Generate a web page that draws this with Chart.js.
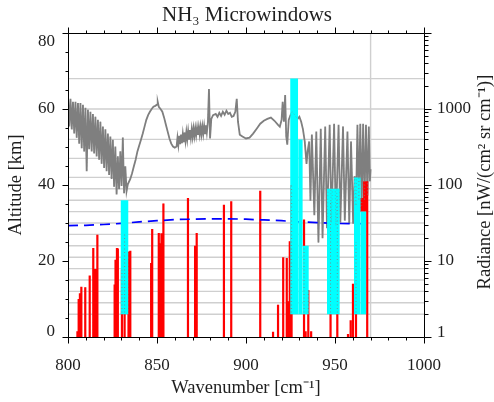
<!DOCTYPE html>
<html>
<head>
<meta charset="utf-8">
<script src="https://cdn.jsdelivr.net/npm/chart.js@4.4.1/dist/chart.umd.min.js"></script>
<style>
html, body { margin: 0; padding: 0; background: #ffffff; }
canvas { display: block; }
</style>
</head>
<body>
<canvas id="chart" width="494" height="402"></canvas>
<script>
// ---------------- data ----------------
const chartTitle = 'NH\u2083 Microwindows';
const xAxisTitle = 'Wavenumber [cm\u207B\u00B9]';
const yAxisTitle = 'Altitude [km]';
const y2AxisTitle = 'Radiance [nW/(cm\u00B2 sr cm\u207B\u00B9)]';

const wavenumberTicks = [800, 850, 900, 950, 1000];
const altitudeTicks = [0, 20, 40, 60, 80];
const radianceTicks = [1, 10, 100, 1000];

// simulated radiance spectrum (gray), right axis
const specWavenumber = [
  800.0, 800.7, 801.4, 802.1, 802.8, 803.5, 804.2, 804.9, 805.6, 806.3, 807.0, 807.7, 808.4, 809.1, 809.8,
  810.5, 811.2, 811.9, 812.6, 813.3, 814.0, 814.7, 815.4, 816.1, 816.8, 817.5, 818.2, 818.9, 819.6, 820.3,
  821.0, 821.7, 822.4, 823.1, 823.8, 824.5, 825.2, 825.9, 826.6, 827.3, 828.0, 828.7, 829.4, 830.1, 830.8,
  831.5, 832.2, 832.9, 833.6, 835, 836, 837, 838, 839, 840, 841, 842, 843, 844, 845, 846, 847, 848, 849,
  850, 850.4, 851, 852, 853, 854, 855, 856, 857, 858, 859, 860, 861,
  861.5, 862, 862.5, 863, 863.5, 864, 864.5, 865, 865.5, 866, 866.5, 867, 867.5, 868, 868.5, 869, 869.5,
  870, 870.5, 871, 871.5, 872, 872.5, 873, 873.5, 874, 874.5, 875, 875.5, 876, 876.5, 877, 877.5, 878,
  878.6, 879.2, 879.8, 880.5, 881.5, 883, 884, 885, 886,
  887, 888, 889, 890, 891, 892, 893, 894, 894.8, 895.5, 896.5, 898, 900, 902, 904, 906, 908, 910, 912, 914,
  916, 918, 919, 920, 920.6, 921.3, 922, 922.6, 923.2, 924, 925, 926, 927, 928, 929, 930, 931, 932, 933,
  934, 934.6, 935.5, 936.2, 937.0, 938.4, 939.5, 940.7, 942.0, 943.0, 944.5, 945.5, 947.0, 948.0, 949.5,
  950.5, 952.0, 953.0, 954.5, 955.5, 957.0, 958.0, 959.0, 960.2, 961.0, 961.8, 962.6, 963.4, 964.2, 965.0,
  965.8, 966.6, 967.4, 968.2, 969.0, 969.6, 970.0
];
const specRadiance = [
  1440, 590, 1360, 540, 1240, 475, 1240, 420, 1200, 350, 1200, 305, 1140, 277, 1040,
  152, 980, 295, 920, 277, 860, 260, 790, 238, 720, 215, 680, 190, 590, 167,
  540, 152, 475, 135, 434, 120, 395, 95, 321, 75, 238, 88, 277, 97, 420,
  78, 176, 83, 102, 120, 143, 176, 215, 277, 331, 395, 475, 586, 720, 830, 920, 1000, 1070, 1100,
  1140, 1240, 1070, 1000, 920, 770, 620, 504, 410, 350, 321, 310, 321,
  420, 335, 445, 345, 460, 355, 470, 365, 490, 380, 500, 395, 515, 405, 530, 420, 545,
  430, 555, 440, 560, 450, 570, 455, 575, 460, 585, 465, 590, 470, 600, 480, 610, 490,
  680, 1830, 410, 740, 830, 860, 790, 890, 810,
  920, 840, 950, 860, 890, 790, 810, 920, 1360, 680, 460, 434, 410, 420, 475, 550, 640, 700, 740, 770,
  700, 620, 586, 720, 1240, 680, 1530, 434, 340, 720, 830, 920, 860, 790, 740, 790, 680, 540, 374,
  190, 277, 374, 62, 460, 40, 504, 17.5, 550, 20, 586, 27, 620, 32, 641,
  29, 620, 32, 586, 34, 504, 31, 374, 31, 130, 53, 620, 62, 641, 53,
  641, 62, 620, 72, 586, 112, 162
];

// microwindow lines (red), left axis: wavenumber, base and top altitude
const mwWavenumber = [
  805.3, 806.0, 806.7, 807.5, 809.7, 812.2, 814.2, 815.3, 816.5,
  826.2, 826.7, 827.5, 828.0, 830.3, 831.8, 834.0, 835.0,
  846.7, 847.3, 851.0, 851.8, 852.5, 853.6, 867.4, 871.4, 872.3, 887.6, 891.7, 908.0,
  915.2, 918.0, 920.9, 922.9, 923.6, 924.6, 925.6,
  932.6, 933.5, 935.0, 936.6,
  947.5, 951.3, 957.3, 958.8, 960.1, 961.8,
  964.6, 965.2, 965.8, 966.4, 967.0, 967.6, 968.1
];
const mwBaseAltitude = [
  0, 0, 0, 0, 0, 0, 0, 0, 0,
  0, 0, 0, 0, 0, 0, 0, 0,
  0, 0, 0, 0, 0, 0, 0, 0, 0, 0, 0, 0,
  0, 0, 0, 0, 0, 0, 0,
  0, 0, 0, 0,
  0, 0, 0, 0, 0, 0,
  33, 33, 33, 33, 33, 33, 0
];
const mwTopAltitude = [
  1.5, 10.0, 11.5, 13.2, 13.1, 16.2, 23.4, 17.9, 26.9,
  13.8, 20.3, 23.4, 23.3, 17.7, 27.4, 22.5, 22.7,
  19.5, 28.4, 27.4, 24.7, 27.3, 35.1, 36.6, 24.0, 27.4, 34.8, 35.7, 38.5,
  1.4, 8.5, 21.0, 20.8, 9.4, 25.2, 40.0,
  30.9, 1.5, 12.4, 1.5,
  36.0, 37.0, 0.8, 4.4, 14.0, 25.0,
  36.6, 36.6, 36.6, 41.0, 41.0, 41.0, 41.0
];

// retrieval microwindow altitude ranges (cyan)
const boxStart  = [829.5, 924.8, 929.3, 931.9, 945.5, 960.6, 964.5];
const boxEnd    = [834.0, 929.3, 931.9, 935.3, 952.7, 964.5, 967.6];
const boxBottom = [6, 6, 6, 6, 6, 6, 6];
const boxTop    = [36, 68, 52, 24, 39, 42, 33];

// blue dashed curve (left axis)
const blueWavenumber = [800, 810, 820, 830, 840, 850, 860, 870, 880, 890, 900, 910, 920, 930, 940, 950, 960, 968];
const blueAltitude   = [29.3, 29.4, 29.6, 29.9, 30.3, 30.6, 30.9, 31.0, 31.1, 31.1, 31.0, 30.8, 30.6, 30.3, 30.1, 29.9, 29.8, 29.8];

// horizontal altitude-level grid and vertical marker
const levelAltitudes = [6, 9, 12, 15, 18, 21, 24, 27, 30, 33, 36, 39, 42, 47, 52, 60, 68];
const markerWavenumbers = [970];

// ---------------- styling ----------------
const FONT = '"Liberation Serif", "Times New Roman", Times, serif';
const TEXT = '#1e1e1e';

const spectrumPts = specWavenumber.map((w, i) => ({ x: w, y: specRadiance[i] }));
const redPts = [];
mwWavenumber.forEach((w, i) => {
  redPts.push({ x: w, y: mwBaseAltitude[i] }, { x: w, y: mwTopAltitude[i] }, { x: w, y: null });
});
const bluePts = blueWavenumber.map((w, i) => ({ x: w, y: blueAltitude[i] }));

const boxDatasets = boxStart.map((s, i) => ({
  data: [{ x: s, y: boxTop[i] }, { x: boxEnd[i], y: boxTop[i] }],
  yAxisID: 'y',
  borderColor: 'rgba(0,0,0,0)',
  borderWidth: 0,
  backgroundColor: '#00ffff',
  fill: { value: boxBottom[i] },
  pointRadius: 0,
  order: 30
}));

const datasets = [
  { data: spectrumPts, yAxisID: 'y2', borderColor: '#7f7f7f', borderWidth: 1.8, pointRadius: 0, order: 60, fill: false },
  { data: redPts, yAxisID: 'y', borderColor: '#ff0000', borderWidth: 2.2, pointRadius: 0, spanGaps: false, order: 50, fill: false, borderCapStyle: 'butt' },
  { data: bluePts, yAxisID: 'y', borderColor: '#0000ff', borderWidth: 1.7, borderDash: [10, 6], pointRadius: 0, order: 40, fill: false },
  ...boxDatasets,
  // faint stipple of what lies under the cyan boxes
  { data: spectrumPts, yAxisID: 'y2', borderColor: 'rgba(128,128,128,0.55)', borderWidth: 0.9, borderDash: [1, 2.5], pointRadius: 0, order: 12, fill: false },
  { data: redPts, yAxisID: 'y', borderColor: 'rgba(255,0,0,0.45)', borderWidth: 0.9, borderDash: [1, 2.5], pointRadius: 0, spanGaps: false, order: 11, fill: false }
];

const decorPlugin = {
  id: 'decor',
  beforeDatasetsDraw(chart) {
    const { ctx, chartArea: a, scales } = chart;
    ctx.save();
    ctx.strokeStyle = '#cfcfcf';
    ctx.lineWidth = 1.4;
    levelAltitudes.forEach(v => {
      const py = scales.y.getPixelForValue(v);
      ctx.beginPath(); ctx.moveTo(a.left, py); ctx.lineTo(a.right, py); ctx.stroke();
    });
    markerWavenumbers.forEach(v => {
      const px = scales.x.getPixelForValue(v);
      ctx.beginPath(); ctx.moveTo(px, a.top); ctx.lineTo(px, a.bottom); ctx.stroke();
    });
    ctx.restore();
  },
  afterDraw(chart) {
    const { ctx, chartArea: a, scales } = chart;
    const L = Math.round(a.left) + 0.5, R = Math.round(a.right) + 0.5;
    const T = Math.round(a.top) + 0.5, B = Math.round(a.bottom) + 0.5;
    ctx.save();
    ctx.strokeStyle = '#000000';
    ctx.lineWidth = 1;
    ctx.beginPath();
    ctx.rect(L, T, R - L, B - T);
    ctx.stroke();
    ctx.beginPath();
    for (let v = 800; v <= 1000; v += 10) {
      const px = Math.round(scales.x.getPixelForValue(v)) + 0.5;
      const len = v % 50 === 0 ? 6 : 3;
      ctx.moveTo(px, B); ctx.lineTo(px, B + len);
      ctx.moveTo(px, T); ctx.lineTo(px, T - len);
    }
    for (let v = 0; v <= 80; v += 5) {
      const py = Math.round(scales.y.getPixelForValue(v)) + 0.5;
      const len = v % 20 === 0 ? 6 : 3;
      ctx.moveTo(L, py); ctx.lineTo(L - len, py);
    }
    for (let d = 1; d <= 10000; d *= 10) {
      for (let k = 1; k <= 9; k++) {
        const v = d * k;
        if (v > 10000) break;
        const py = Math.round(scales.y2.getPixelForValue(v)) + 0.5;
        const len = k === 1 ? 7 : 4;
        ctx.moveTo(R, py); ctx.lineTo(R + len, py);
      }
    }
    ctx.stroke();
    ctx.fillStyle = TEXT;
    ctx.font = '18.5px ' + FONT;
    ctx.textAlign = 'center';
    ctx.textBaseline = 'middle';
    ctx.translate(485.5, (a.top + a.bottom) / 2 - 3);
    ctx.rotate(-Math.PI / 2);
    ctx.fillText(y2AxisTitle, 0, 0);
    ctx.restore();
  }
};

new Chart(document.getElementById('chart').getContext('2d'), {
  type: 'line',
  data: { datasets },
  plugins: [decorPlugin],
  options: {
    responsive: false,
    animation: false,
    devicePixelRatio: 1,
    layout: { padding: 0 },
    elements: { line: { tension: 0 } },
    plugins: {
      legend: { display: false },
      tooltip: { enabled: false },
      title: {
        display: true,
        text: chartTitle,
        color: TEXT,
        font: { family: FONT, size: 21, weight: 'normal', lineHeight: 1.2 },
        padding: { top: 3, bottom: 4.8 }
      }
    },
    scales: {
      x: {
        type: 'linear',
        position: 'bottom',
        min: 800, max: 1000,
        afterBuildTicks: s => { s.ticks = wavenumberTicks.map(v => ({ value: v })); },
        ticks: {
          autoSkip: false, maxRotation: 0, padding: 18, color: TEXT,
          font: { family: FONT, size: 17 },
          callback: v => String(v)
        },
        grid: { display: false, drawTicks: false, tickLength: 0 },
        border: { display: false },
        title: {
          display: true, text: xAxisTitle, color: TEXT,
          font: { family: FONT, size: 18.5 },
          padding: { top: 0, bottom: 3 }
        },
        afterFit: s => { s.height = 65; }
      },
      y: {
        type: 'linear',
        position: 'left',
        min: 0, max: 80,
        afterBuildTicks: s => { s.ticks = altitudeTicks.map(v => ({ value: v })); },
        ticks: {
          autoSkip: false, padding: 13, color: TEXT,
          font: c => {
            const v = c.tick ? c.tick.value : null;
            let lh = 1.2;
            if (v === 80) lh = 1.0;
            if (v === 0) lh = 0.62;
            return { family: FONT, size: 17, lineHeight: lh };
          },
          callback: v => v === 80 ? ['', '80'] : (v === 0 ? ['0', ''] : String(v))
        },
        grid: { display: false, drawTicks: false, tickLength: 0 },
        border: { display: false },
        title: {
          display: true, text: yAxisTitle, color: TEXT,
          font: { family: FONT, size: 18.5 },
          padding: { top: 5, bottom: 0 }
        },
        afterFit: s => { s.width = 68; }
      },
      y2: {
        type: 'logarithmic',
        position: 'right',
        min: 1, max: 10000,
        afterBuildTicks: s => { s.ticks = radianceTicks.map(v => ({ value: v })); },
        ticks: {
          autoSkip: false, padding: 13, color: TEXT,
          font: c => {
            const v = c.tick ? c.tick.value : null;
            return { family: FONT, size: 17, lineHeight: v === 1 ? 0.53 : 1.2 };
          },
          callback: v => v === 1 ? ['1', ''] : String(v)
        },
        grid: { display: false, drawTicks: false, tickLength: 0 },
        border: { display: false },
        afterFit: s => { s.width = 70; }
      }
    }
  }
});
</script>
</body>
</html>
